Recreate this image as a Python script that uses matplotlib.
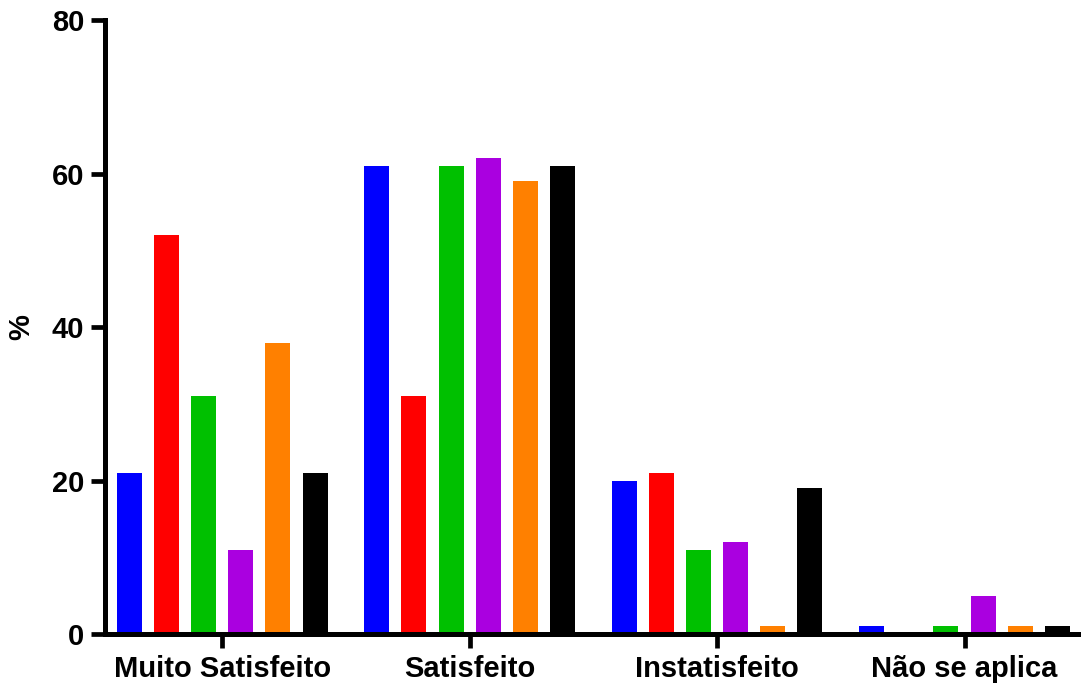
import matplotlib
matplotlib.use("Agg")
import matplotlib.pyplot as plt
import numpy as np

plt.rcParams['font.family'] = ['Liberation Sans', 'DejaVu Sans']
plt.rcParams['font.weight'] = 'bold'

categories = ["Muito Satisfeito", "Satisfeito", "Instatisfeito", "Não se aplica"]
series_values = [
    [21, 61, 20, 1],
    [52, 31, 21, 0],
    [31, 61, 11, 1],
    [11, 62, 12, 5],
    [38, 59, 1, 1],
    [21, 61, 19, 1],
]
colors = ["#0000FF", "#FF0000", "#00C000", "#AA00E0", "#FF8000", "#000000"]

fig = plt.figure(figsize=(10.81, 6.91), dpi=100)
ax = fig.add_axes([0.0971, 0.0825, 0.905, 0.888])

x = np.arange(len(categories))
stride = 0.15
width = 0.101
n = len(series_values)
for i, vals in enumerate(series_values):
    offs = (i - (n - 1) / 2) * stride
    ax.bar(x + offs, vals, width=width, color=colors[i], linewidth=0)

ax.set_xlim(-0.474, 3.48)
ax.set_ylim(0, 80)
ax.set_yticks([0, 20, 40, 60, 80])
ax.set_xticks(x)
ax.set_xticklabels(categories)
ax.set_ylabel("%", fontsize=21, fontweight='bold', labelpad=12)

for side in ['top', 'right']:
    ax.spines[side].set_visible(False)
for side in ['left', 'bottom']:
    ax.spines[side].set_linewidth(3.6)
ax.spines['left'].set_bounds(0, 80)

ax.tick_params(axis='both', direction='out', length=10, width=3.4,
               labelsize=21, pad=5)

fig.savefig("out.png", dpi=100)
